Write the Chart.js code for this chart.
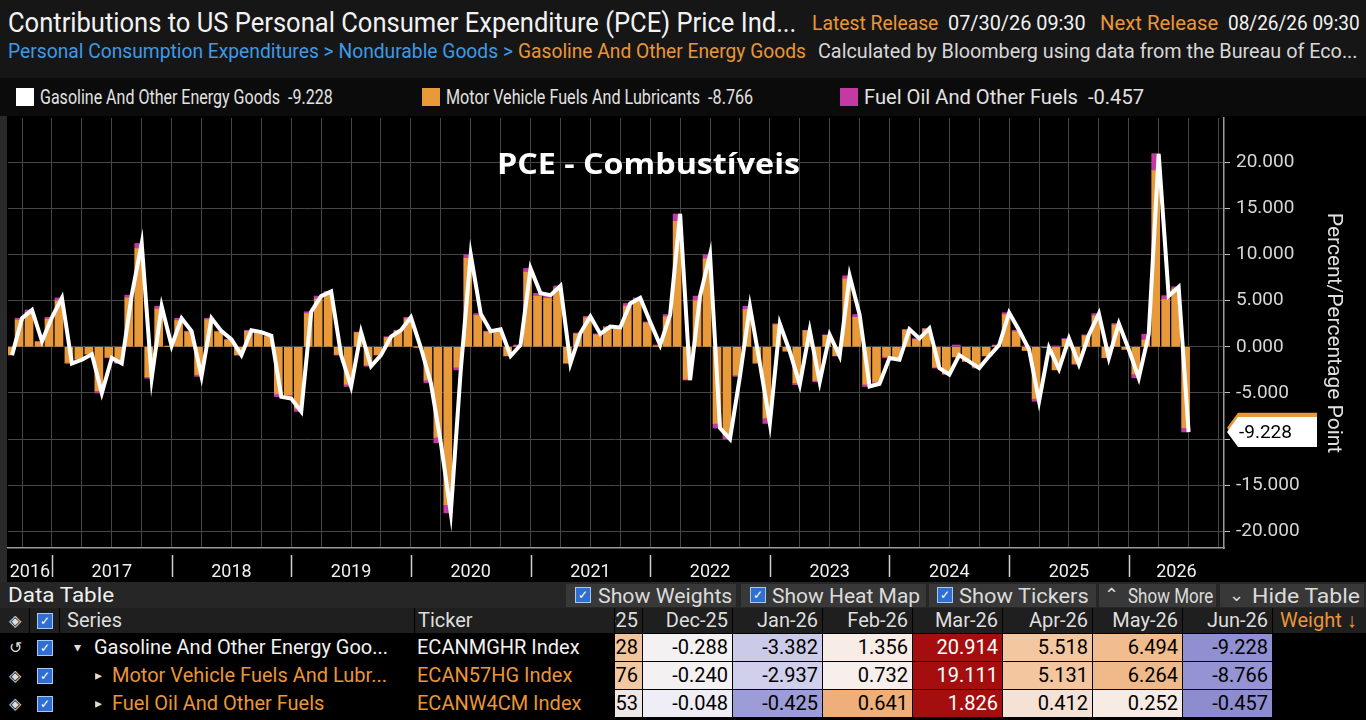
<!DOCTYPE html>
<html lang="en">
<head>
<meta charset="utf-8">
<title>PCE - Combustíveis</title>
<script src="https://cdn.jsdelivr.net/npm/chart.js@4.4.1/dist/chart.umd.min.js"></script>
<style>
html, body { margin: 0; padding: 0; background: #000; }
body { width: 1366px; height: 720px; position: relative; overflow: hidden; font-family: Roboto, "Liberation Sans", sans-serif; color: #e8e8e8; }
.band { position: absolute; left: 0; width: 1366px; }
.t { position: absolute; white-space: nowrap; line-height: 1; transform-origin: 0 50%; }
.sq { position: absolute; width: 18px; height: 18px; top: 88px; }
.cb { position: absolute; width: 14px; height: 14px; background: #2f6fd2; border: 1px solid #a9c8f2; color: #fff; font-size: 12px; line-height: 14px; text-align: center; }
#wrap { position: absolute; left: 0; top: 116px; width: 1366px; height: 466px; }
#ctitle { position: absolute; left: 497px; top: 149px; font-family: "Open Sans", Roboto, sans-serif; font-weight: bold; font-size: 28px; color: #fff; }
.cell { position: absolute; height: 27px; line-height: 27px; font-size: 20px; white-space: nowrap; overflow: hidden; box-sizing: border-box; }
.num { display: flex; justify-content: flex-end; padding-right: 4px; color: #000; }
.btn { position: absolute; top: 584px; height: 23px; background: #383838; }
</style>
</head>
<body>
<!-- header -->
<div class="band" style="top:0;height:78px;background:#161616"></div>
<div class="band" style="top:78px;height:38px;background:#0b0b0b"></div>
<div class="band" style="top:116px;height:466px;left:0;width:7px;background:#2a2a2a"></div>

<span class="t" data-w="788" style="left:8px;top:10px;font-size:27px;color:#f2f2f2">Contributions to US Personal Consumer Expenditure (PCE) Price Ind...</span>
<span class="t" data-w="126" style="left:812px;top:13px;font-size:21px;color:#e8963a">Latest Release</span>
<span class="t" data-w="138" style="left:948px;top:13px;font-size:21px;color:#f2f2f2">07/30/26 09:30</span>
<span class="t" data-w="118" style="left:1100px;top:13px;font-size:21px;color:#e8963a">Next Release</span>
<span class="t" data-w="132" style="left:1228px;top:13px;font-size:21px;color:#f2f2f2">08/26/26 09:30</span>

<span class="t" data-w="505" style="left:8px;top:41px;font-size:20px;color:#3f9ae6">Personal Consumption Expenditures &gt; Nondurable Goods &gt;</span>
<span class="t" data-w="288" style="left:518px;top:41px;font-size:20px;color:#e8963a">Gasoline And Other Energy Goods</span>
<span class="t" data-w="540" style="left:818px;top:41px;font-size:20px;color:#d8d8d8">Calculated by Bloomberg using data from the Bureau of Eco...</span>

<!-- legend -->
<div class="sq" style="left:16px;background:#ffffff"></div>
<span class="t" data-w="293" style="left:40px;top:87px;font-size:20px;color:#e2e2e2">Gasoline And Other Energy Goods&nbsp; -9.228</span>
<div class="sq" style="left:422px;background:#e89a3a"></div>
<span class="t" data-w="307" style="left:446px;top:87px;font-size:20px;color:#e2e2e2">Motor Vehicle Fuels And Lubricants&nbsp; -8.766</span>
<div class="sq" style="left:840px;background:#c43aa2"></div>
<span class="t" data-w="280" style="left:864px;top:87px;font-size:20px;color:#e2e2e2">Fuel Oil And Other Fuels&nbsp; -0.457</span>

<div id="wrap"><canvas id="chart" width="1366" height="466"></canvas></div>
<span id="ctitle" class="t" data-w="303">PCE - Combustíveis</span>

<!-- data table header -->
<div class="band" style="top:582px;height:26px;background:#262626"></div>
<span class="t" data-w="106" style="left:8px;top:585px;font-size:21px;color:#f0f0f0">Data Table</span>
<div class="btn" style="left:566px;width:170px"></div>
<div class="btn" style="left:741px;width:185px"></div>
<div class="btn" style="left:929px;width:167px"></div>
<div class="btn" style="left:1099px;width:117px"></div>
<div class="btn" style="left:1220px;width:144px"></div>
<div class="cb" style="left:575px;top:587px">✓</div>
<span class="t" data-w="134" style="left:598px;top:586px;font-size:20px;color:#dcdcdc">Show Weights</span>
<div class="cb" style="left:750px;top:587px">✓</div>
<span class="t" data-w="148" style="left:772px;top:586px;font-size:20px;color:#dcdcdc">Show Heat Map</span>
<div class="cb" style="left:937px;top:587px">✓</div>
<span class="t" data-w="130" style="left:959px;top:586px;font-size:20px;color:#dcdcdc">Show Tickers</span>
<span class="t" style="left:1104px;top:586px;font-size:18px;color:#dcdcdc">⌃</span>
<span class="t" data-w="85" style="left:1128px;top:586px;font-size:20px;color:#dcdcdc">Show More</span>
<span class="t" style="left:1229px;top:586px;font-size:18px;color:#dcdcdc">⌄</span>
<span class="t" data-w="108" style="left:1252px;top:586px;font-size:20px;color:#dcdcdc">Hide Table</span>
<div id="table"></div>

<script>
// ---- data (monthly; last 8 months from the data table)
const months = [
  'Aug-16', 'Sep-16', 'Oct-16', 'Nov-16', 'Dec-16',
  'Jan-17', 'Feb-17', 'Mar-17', 'Apr-17', 'May-17', 'Jun-17', 'Jul-17', 'Aug-17', 'Sep-17', 'Oct-17', 'Nov-17', 'Dec-17',
  'Jan-18', 'Feb-18', 'Mar-18', 'Apr-18', 'May-18', 'Jun-18', 'Jul-18', 'Aug-18', 'Sep-18', 'Oct-18', 'Nov-18', 'Dec-18',
  'Jan-19', 'Feb-19', 'Mar-19', 'Apr-19', 'May-19', 'Jun-19', 'Jul-19', 'Aug-19', 'Sep-19', 'Oct-19', 'Nov-19', 'Dec-19',
  'Jan-20', 'Feb-20', 'Mar-20', 'Apr-20', 'May-20', 'Jun-20', 'Jul-20', 'Aug-20', 'Sep-20', 'Oct-20', 'Nov-20', 'Dec-20',
  'Jan-21', 'Feb-21', 'Mar-21', 'Apr-21', 'May-21', 'Jun-21', 'Jul-21', 'Aug-21', 'Sep-21', 'Oct-21', 'Nov-21', 'Dec-21',
  'Jan-22', 'Feb-22', 'Mar-22', 'Apr-22', 'May-22', 'Jun-22', 'Jul-22', 'Aug-22', 'Sep-22', 'Oct-22', 'Nov-22', 'Dec-22',
  'Jan-23', 'Feb-23', 'Mar-23', 'Apr-23', 'May-23', 'Jun-23', 'Jul-23', 'Aug-23', 'Sep-23', 'Oct-23', 'Nov-23', 'Dec-23',
  'Jan-24', 'Feb-24', 'Mar-24', 'Apr-24', 'May-24', 'Jun-24', 'Jul-24', 'Aug-24', 'Sep-24', 'Oct-24', 'Nov-24', 'Dec-24',
  'Jan-25', 'Feb-25', 'Mar-25', 'Apr-25', 'May-25', 'Jun-25', 'Jul-25', 'Aug-25', 'Sep-25', 'Oct-25', 'Nov-25', 'Dec-25',
  'Jan-26', 'Feb-26', 'Mar-26', 'Apr-26', 'May-26', 'Jun-26'
];

// Gasoline And Other Energy Goods (white line)
const gasoline = [
  -0.9, 3.1, 4.0, 0.6, 3.2,
  5.3, -1.8, -1.4, -0.8, -5.0, -1.2, -1.8, 5.6, 11.2, -3.4, 4.4, 0.1,
  3.1, 1.7, -3.2, 3.1, 1.7, 0.8, -0.9, 1.8, 1.6, 1.2, -5.4, -5.6,
  -7.0, 3.8, 5.5, 6.0, -0.9, -4.3, 1.6, -2.1, -0.9, 1.1, 1.8, 3.2,
  -0.1, -3.9, -10.4, -18.0, -2.5, 10.0, 3.6, 1.7, 1.9, -1.0, 0.2, 8.5,
  5.8, 5.6, 6.6, -1.8, 1.5, 3.3, 1.4, 2.2, 2.1, 4.7, 5.3, 2.7,
  0.2, 3.5, 14.4, -3.6, 5.5, 10.0, -8.8, -10.0, -3.2, 4.4, -1.8, -8.3,
  2.5, -0.5, -4.1, 1.8, -3.8, 1.3, -1.0, 7.7, 3.5, -4.3, -4.0, -1.2,
  -1.4, 1.9, 0.9, 2.0, -2.3, -3.0, -0.9, -1.6, -2.3, -1.0, 0.2, 3.7,
  1.8, -0.3, -5.9, -0.1, -2.4, 0.9, -1.9, 1.3, 3.6, -1.2, 2.528, -0.288,
  -3.382, 1.356, 20.914, 5.518, 6.494, -9.228
];

// Motor Vehicle Fuels And Lubricants (orange bars)
const motorFuels = [
  -0.85, 2.90, 3.75, 0.50, 3.00,
  5.00, -1.70, -1.28, -0.75, -4.75, -1.10, -1.72, 5.30, 10.65, -3.25, 4.10, 0.05,
  2.85, 1.60, -3.00, 2.95, 1.58, 0.74, -0.86, 1.70, 1.48, 1.10, -5.10, -5.20,
  -6.65, 3.60, 5.20, 5.80, -0.82, -4.05, 1.54, -1.98, -0.84, 1.02, 1.70, 3.05,
  0.00, -3.60, -9.80, -17.10, -2.20, 9.60, 3.40, 1.60, 1.84, -0.95, 0.10, 8.10,
  5.50, 5.25, 6.30, -1.72, 1.40, 3.15, 1.32, 2.08, 2.00, 4.40, 5.05, 2.60,
  0.05, 3.25, 13.60, -3.50, 5.00, 9.55, -8.30, -9.55, -3.05, 4.05, -1.70, -7.70,
  2.40, -0.40, -3.90, 1.75, -3.65, 1.25, -0.95, 7.35, 3.20, -4.05, -3.80, -1.05,
  -1.35, 1.80, 0.80, 1.92, -2.20, -2.90, -1.10, -1.55, -2.18, -0.95, 0.12, 3.50,
  1.65, -0.40, -5.60, -0.06, -2.50, 0.82, -1.80, 1.20, 3.35, -1.15, 2.376, -0.240,
  -2.937, 0.732, 19.111, 5.131, 6.264, -8.766
];

// Fuel Oil And Other Fuels (magenta bars)
const fuelOil = [
  -0.05, 0.20, 0.25, 0.10, 0.20,
  0.30, -0.10, -0.12, -0.05, -0.25, -0.10, -0.08, 0.30, 0.55, -0.15, 0.30, 0.05,
  0.25, 0.10, -0.20, 0.15, 0.12, 0.06, -0.04, 0.10, 0.12, 0.10, -0.30, -0.40,
  -0.35, 0.20, 0.30, 0.20, -0.08, -0.25, 0.06, -0.12, -0.06, 0.08, 0.10, 0.15,
  -0.10, -0.30, -0.60, -0.90, -0.30, 0.40, 0.20, 0.10, 0.06, -0.05, 0.10, 0.40,
  0.30, 0.35, 0.30, -0.08, 0.10, 0.15, 0.08, 0.12, 0.10, 0.30, 0.25, 0.10,
  0.15, 0.25, 0.80, -0.10, 0.50, 0.45, -0.50, -0.45, -0.15, 0.35, -0.10, -0.60,
  0.10, -0.10, -0.20, 0.05, -0.15, 0.05, -0.05, 0.35, 0.30, -0.25, -0.20, -0.15,
  -0.05, 0.10, 0.10, 0.08, -0.10, -0.10, 0.20, -0.05, -0.12, -0.05, 0.08, 0.20,
  0.15, 0.10, -0.30, -0.04, 0.10, 0.08, -0.10, 0.10, 0.25, -0.05, 0.153, -0.048,
  -0.425, 0.641, 1.826, 0.412, 0.252, -0.457
];

const yearLabels = ['2016', '2017', '2018', '2019', '2020', '2021', '2022', '2023', '2024', '2025', '2026'];
const yTicks = [-20, -17.5, -15, -12.5, -10, -7.5, -5, -2.5, 0, 2.5, 5, 7.5, 10, 12.5, 15, 17.5, 20, 22.5];

const seriesNames = ['Gasoline And Other Energy Goo...', 'Motor Vehicle Fuels And Lubr...', 'Fuel Oil And Other Fuels'];
const tickers = ['ECANMGHR Index', 'ECAN57HG Index', 'ECANW4CM Index'];

// ---- helpers
const MON = ['Jan', 'Feb', 'Mar', 'Apr', 'May', 'Jun', 'Jul', 'Aug', 'Sep', 'Oct', 'Nov', 'Dec'];
// month index since Jan 2016, plotted at month end
function monthPos(lbl) {
    const [m, y] = lbl.split('-');
    return (Number(y) - 16) * 12 + MON.indexOf(m) + 1;
}
const xMin = 7.59, xMax = 129.55;

const linePts = months.map((m, i) => ({ x: monthPos(m), y: gasoline[i] }));
const motorPts = months.map((m, i) => ({ x: monthPos(m) - 0.3, y: motorFuels[i] }));
const fuelPts = months.map((m, i) => ({ x: monthPos(m) - 0.3, y: fuelOil[i] }));

const quarterTicks = [];
for (let q = 9; q <= xMax; q += 3) quarterTicks.push(q);

const yearStart = yr => (Number(yr) - 2016) * 12;
const yearCenters = yearLabels.map(yr => {
    const lo = Math.max(yearStart(yr), xMin);
    const hi = Math.min(yearStart(yr) + 12, xMax);
    return (lo + hi) / 2;
});

const noPad = s => { s.paddingTop = 0; s.paddingBottom = 0; s.paddingLeft = 0; s.paddingRight = 0; };

// year separators + last value tags
const overlay = {
    id: 'overlay',
    afterDraw(chart) {
        const { ctx, chartArea, scales: { x, y } } = chart;
        ctx.save();
        ctx.strokeStyle = '#cfcfcf';
        ctx.lineWidth = 1.5;
        yearLabels.slice(1).forEach(yr => {
            const px = Math.round(x.getPixelForValue(yearStart(yr))) + 0.5;
            ctx.beginPath();
            ctx.moveTo(px, chartArea.bottom + 7);
            ctx.lineTo(px, chartArea.bottom + 29);
            ctx.stroke();
        });

        const tag = (v, fill, text) => {
            const py = y.getPixelForValue(v);
            const L = chartArea.right + 3;
            ctx.fillStyle = fill;
            ctx.beginPath();
            ctx.moveTo(L, py);
            ctx.lineTo(L + 11, py - 15);
            ctx.lineTo(L + 90, py - 15);
            ctx.lineTo(L + 90, py + 15);
            ctx.lineTo(L + 11, py + 15);
            ctx.closePath();
            ctx.fill();
            if (text) {
                ctx.fillStyle = '#000';
                ctx.font = '19px Roboto';
                ctx.textBaseline = 'middle';
                ctx.fillText(text, L + 12, py + 1);
            }
        };
        tag(motorFuels[motorFuels.length - 1], '#e89a3a', '');
        const last = gasoline[gasoline.length - 1];
        tag(last, '#ffffff', last.toFixed(3));
        ctx.restore();
    }
};

new Chart(document.getElementById('chart'), {
    type: 'bar',
    data: {
        datasets: [
            {
                type: 'line',
                label: 'Gasoline And Other Energy Goods',
                data: linePts,
                borderColor: '#ffffff',
                borderWidth: 4,
                borderJoinStyle: 'miter',
                pointRadius: 0,
                stack: 'line',
                order: 0
            },
            {
                label: 'Motor Vehicle Fuels And Lubricants',
                data: motorPts,
                backgroundColor: '#e89a3a',
                barThickness: 8,
                stack: 'bars',
                order: 1
            },
            {
                label: 'Fuel Oil And Other Fuels',
                data: fuelPts,
                backgroundColor: '#c43aa2',
                barThickness: 8,
                stack: 'bars',
                order: 2
            }
        ]
    },
    options: {
        responsive: false,
        animation: false,
        layout: { padding: { left: 8, top: 2, right: 20, bottom: 0 } },
        plugins: {
            legend: { display: false },
            tooltip: { enabled: false }
        },
        scales: {
            x: {
                type: 'linear',
                min: xMin,
                max: xMax,
                stacked: true,
                offset: false,
                afterBuildTicks: s => { s.ticks = quarterTicks.map(v => ({ value: v })); },
                afterFit: s => { s.height = 4; noPad(s); },
                ticks: { display: false },
                grid: { color: '#464646', lineWidth: 1, drawTicks: false, offset: false },
                border: { display: true, color: '#9a9a9a', width: 1.5 }
            },
            x2: {
                type: 'linear',
                position: 'bottom',
                weight: 1,
                min: xMin,
                max: xMax,
                offset: false,
                afterBuildTicks: s => { s.ticks = yearCenters.map(v => ({ value: v })); },
                afterFit: s => { s.height = 30; noPad(s); },
                ticks: {
                    color: '#f0f0f0',
                    font: { family: 'Roboto', size: 18 },
                    autoSkip: false,
                    maxRotation: 0,
                    minRotation: 0,
                    padding: 2,
                    callback: (v, i) => yearLabels[i]
                },
                grid: { display: false, offset: false },
                border: { display: false }
            },
            y: {
                type: 'linear',
                position: 'right',
                stacked: true,
                min: -21.8,
                max: 24.8,
                afterBuildTicks: s => { s.ticks = yTicks.map(v => ({ value: v })); },
                afterFit: s => { s.width = 122; noPad(s); },
                ticks: {
                    color: '#d6d6d6',
                    font: { family: 'Roboto', size: 19 },
                    padding: 6,
                    crossAlign: 'near',
                    callback: v => (v % 5 === 0 && Math.abs(v) <= 20) ? v.toFixed(3) : ''
                },
                grid: { color: '#464646', lineWidth: 1, tickColor: '#bdbdbd', tickLength: 6 },
                border: { display: true, color: '#9a9a9a', width: 1.5 },
                title: {
                    display: true,
                    text: 'Percent/Percentage Point',
                    color: '#e0e0e0',
                    font: { family: 'Roboto', size: 21 },
                    padding: { top: 0, bottom: 0 }
                }
            }
        }
    },
    plugins: [overlay]
});

// ---- data table (last 8 months)
const heatColors = [
    ['#f2c49c', '#f4f1f3', '#cbcbe9', '#f8ece6', '#a50e0e', '#f3c7a0', '#f1bc8e', '#8f8fd2'],
    ['#f2c8a2', '#f4f1f3', '#d0d0ec', '#f7efeb', '#a50e0e', '#f3c6a0', '#f0b98a', '#9494d4'],
    ['#efe6e6', '#efeef6', '#9c9cd6', '#eeaf7a', '#a50e0e', '#f6e2d4', '#f7ebe4', '#8c8ccf']
];
const table = document.getElementById('table');
const tMonths = months.slice(-8);
const tValues = [gasoline.slice(-8), motorFuels.slice(-8), fuelOil.slice(-8)];

function cell(left, top, width, text, style, cls) {
    const d = document.createElement('div');
    d.className = 'cell' + (cls ? ' ' + cls : '');
    d.style.left = left + 'px';
    d.style.top = top + 'px';
    d.style.width = width + 'px';
    d.style.cssText += style || '';
    d.textContent = text;
    table.appendChild(d);
    return d;
}
const colLeft = i => i === 0 ? 615 : 643 + (i - 1) * 90;
const colWidth = i => i === 0 ? 27 : 89;

// header row
const hy = 608;
cell(0, hy, 1366, '', 'background:#000;height:26px');
cell(0, hy, 29, '◈', 'background:#1f1f1f;height:25px;line-height:25px;color:#ddd;text-align:center;font-size:16px');
cell(30, hy, 29, '', 'background:#1f1f1f;height:25px');
cell(60, hy, 354, 'Series', 'background:#1f1f1f;height:25px;line-height:25px;color:#dedede;padding-left:7px');
cell(415, hy, 199, 'Ticker', 'background:#1f1f1f;height:25px;line-height:25px;color:#dedede;padding-left:3px');
tMonths.forEach((m, i) => {
    cell(colLeft(i), hy, colWidth(i), m, 'background:#1f1f1f;height:25px;line-height:25px;color:#dedede', 'num');
});
cell(1273, hy, 93, 'Weight ↓', 'background:#1f1f1f;height:25px;line-height:25px;color:#e8963a;padding-left:7px');
const hcb = document.createElement('div');
hcb.className = 'cb'; hcb.textContent = '✓';
hcb.style.left = '37px'; hcb.style.top = (hy + 5) + 'px';
table.appendChild(hcb);

// data rows
tValues.forEach((vals, r) => {
    const top = 634 + r * 28;
    const col = r === 0 ? '#f2f2f2' : '#e8963a';
    cell(0, top, 30, r === 0 ? '↺' : '◈', 'color:#ddd;text-align:center;font-size:16px');
    const cb = document.createElement('div');
    cb.className = 'cb'; cb.textContent = '✓';
    cb.style.left = '37px'; cb.style.top = (top + 6) + 'px';
    table.appendChild(cb);
    cell(r === 0 ? 74 : 95, top, 14, r === 0 ? '▾' : '▸', 'color:#ddd;font-size:14px');
    cell(r === 0 ? 94 : 112, top, r === 0 ? 320 : 302, seriesNames[r], 'color:' + col);
    cell(417, top, 198, tickers[r], 'color:' + col);
    vals.forEach((v, i) => {
        const bg = heatColors[r][i];
        const fg = i === 4 ? '#ffffff' : '#000000';
        cell(colLeft(i), top, colWidth(i), v.toFixed(3), 'background:' + bg + ';color:' + fg, 'num');
    });
});

// squeeze header texts to their measured widths
function fitTexts() {
    document.querySelectorAll('.t[data-w]').forEach(el => {
        el.style.transform = 'none';
        const w = Number(el.dataset.w);
        el.style.transform = 'scaleX(' + (w / el.offsetWidth) + ')';
    });
}
fitTexts();
if (document.fonts) document.fonts.ready.then(fitTexts);
</script>
</body>
</html>
